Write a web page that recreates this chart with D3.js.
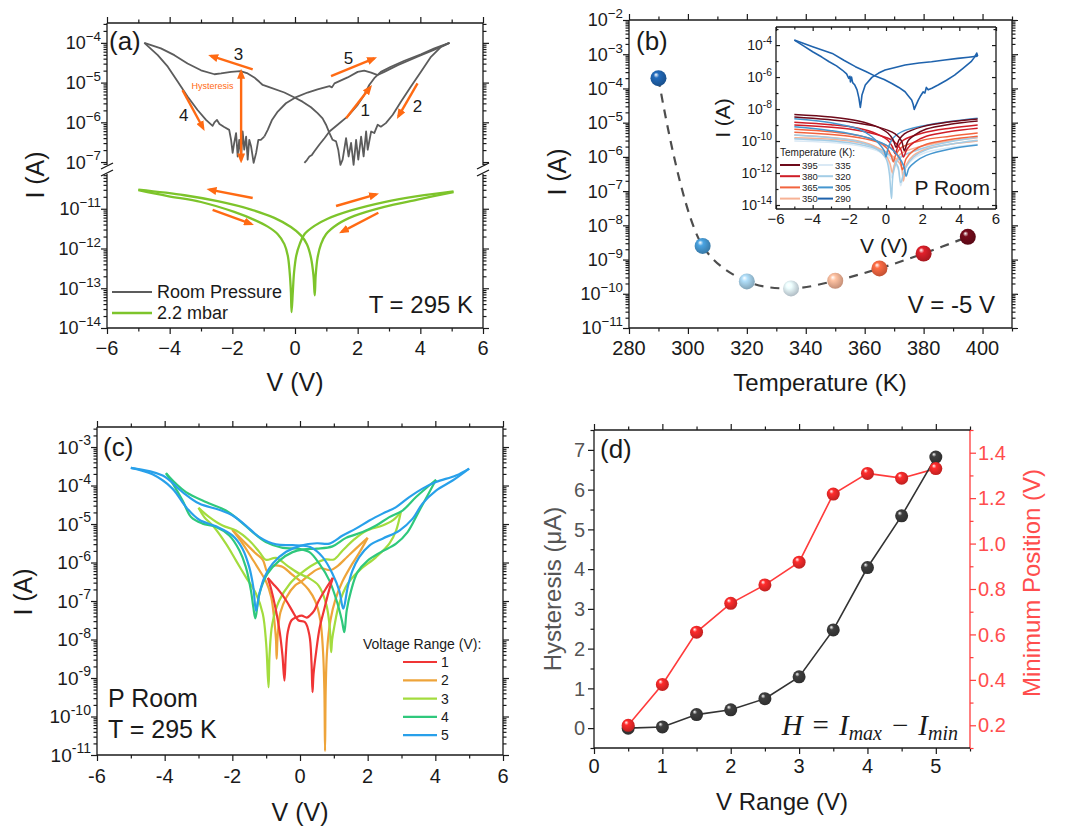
<!DOCTYPE html>
<html>
<head>
<meta charset="utf-8">
<script src="https://cdn.jsdelivr.net/npm/d3@7"></script>
<style>
  body { margin: 0; background: #fff; }
  svg { font-family: "Liberation Sans", Arial, sans-serif; }
</style>
</head>
<body>
<svg id="fig" width="1070" height="826"></svg>
<script>
// ---------- panel (a): I-V at 295 K, points are [V, log10 I] ----------
var aTicksV = [-6, -4, -2, 0, 2, 4, 6];
var aTicksHi = [-4, -5, -6, -7];
var aTicksLo = [-11, -12, -13, -14];
var aRoom1 = [[0.3,-7.02],[0.38,-6.95],[0.46,-6.86],[0.54,-6.82],[0.62,-6.73],[0.78,-6.56],[0.94,-6.4],[1.1,-6.23],[1.36,-6.06],[1.68,-5.85],[2.0,-5.56],[2.21,-5.31],[2.37,-5.06],[2.53,-4.89],[2.74,-4.73],[3.06,-4.6],[3.49,-4.45],[4.02,-4.29],[4.45,-4.14],[4.93,-4.0]];
var aRoom2 = [[4.93,-4.0],[4.66,-4.1],[4.34,-4.35],[4.02,-4.73],[3.7,-5.1],[3.38,-5.48],[3.12,-5.81],[2.9,-6.02],[2.74,-6.11],[2.64,-6.06],[2.53,-6.27],[2.43,-6.23],[2.32,-6.69],[2.27,-6.23],[2.19,-6.86],[2.11,-6.36],[2.02,-6.94],[1.95,-6.44],[1.87,-7.07],[1.79,-6.52],[1.71,-6.86],[1.63,-6.4],[1.52,-6.94],[1.45,-7.07],[1.38,-6.69],[1.31,-6.48],[1.2,-6.44],[1.1,-6.27]];
var aRoom3 = [[1.1,-6.27],[0.99,-6.06],[0.88,-5.9],[0.72,-5.77],[0.51,-5.62],[0.24,-5.48],[0,-5.38],[-0.34,-5.25],[-0.87,-5.1],[-1.03,-5.06],[-1.14,-4.98],[-1.3,-4.87],[-1.51,-4.77],[-1.74,-4.71],[-2.04,-4.73],[-2.36,-4.77],[-2.57,-4.79],[-3.0,-4.69],[-3.43,-4.52],[-3.85,-4.31],[-4.28,-4.14],[-4.81,-4.0]];
var aRoom4 = [[-4.81,-4.0],[-4.38,-4.31],[-4.06,-4.6],[-3.74,-4.98],[-3.43,-5.35],[-3.11,-5.69],[-2.84,-5.94],[-2.63,-6.09],[-2.57,-6.0],[-2.49,-5.94],[-2.41,-6.04],[-2.26,-6.12],[-2.1,-6.19],[-2.04,-6.44],[-1.99,-6.77],[-1.94,-6.52],[-1.88,-6.27],[-1.83,-6.86],[-1.78,-6.44],[-1.72,-6.86],[-1.67,-6.23],[-1.62,-6.69],[-1.56,-6.36],[-1.51,-6.94],[-1.46,-6.44],[-1.4,-6.61],[-1.32,-7.02],[-1.24,-6.77],[-1.17,-6.44],[-1.09,-6.44],[-0.98,-6.36]];
var aRoom5 = [[-0.98,-6.36],[-0.87,-6.19],[-0.74,-5.95],[-0.55,-5.73],[-0.29,-5.52],[0,-5.38],[0.4,-5.25],[0.72,-5.17],[1.1,-5.09],[1.18,-5.12],[1.26,-5.02],[1.68,-4.87],[2.0,-4.73],[2.21,-4.7],[2.43,-4.75],[2.64,-4.81],[2.85,-4.73],[3.28,-4.56],[3.91,-4.35],[4.45,-4.17],[4.93,-4.0]];
var aVac1 = [[-5.0,-10.53],[-4.06,-10.68],[-3.0,-10.83],[-1.94,-11.08],[-1.3,-11.28],[-0.87,-11.45],[-0.55,-11.64],[-0.34,-11.89],[-0.23,-12.18],[-0.17,-12.6],[-0.13,-13.1],[-0.11,-13.6],[-0.07,-13.1],[-0.03,-12.6],[0.04,-12.18],[0.15,-11.89],[0.3,-11.64],[0.62,-11.43],[1.04,-11.25],[1.79,-11.04],[2.85,-10.83],[3.91,-10.68],[5.06,-10.56]];
var aVac2 = [[5.06,-10.58],[3.91,-10.77],[2.85,-10.95],[1.89,-11.18],[1.36,-11.39],[0.99,-11.64],[0.83,-11.89],[0.72,-12.23],[0.66,-12.68],[0.63,-13.18],[0.59,-12.68],[0.51,-12.23],[0.38,-11.89],[0.19,-11.67],[-0.13,-11.46],[-0.66,-11.23],[-1.4,-11.02],[-2.47,-10.81],[-3.53,-10.66],[-5.0,-10.52]];
// sweep arrows [V tail, log tail, V head, log head] and their numbers
var aArrowsHi = [[-1.35,-4.67,-2.68,-4.33],[1.15,-4.84,2.53,-4.39],[1.63,-5.9,2.4,-5.12],[3.91,-5.02,3.3,-5.85],[-3.59,-5.19,-2.93,-6.15]];
var aArrowNums = [['3',-1.8,-4.28],['5',1.71,-4.37],['1',2.24,-5.69],['2',3.91,-5.59],['4',-3.55,-5.81]];
var aHyst = [-1.72, -4.73, -6.96];
var aArrowsLo = [[-1.35,-10.73,-2.73,-10.52],[-2.63,-11.03,-1.4,-11.38],[1.31,-10.93,2.59,-10.64],[2.66,-11.1,1.49,-11.58]];

// ---------- panel (b): current at -5 V vs temperature ----------
var bTemps = [290, 305, 320, 335, 350, 365, 380, 395];
var bCurrent = [2.0e-4, 2.5e-9, 2.3e-10, 1.43e-10, 2.4e-10, 5.5e-10, 1.5e-9, 4.6e-9];
var bColors = ['#1f63ad', '#4596cf', '#a3cde6', '#dae9f5', '#f7b295', '#f2643f', '#cf1d27', '#6e0a1a'];
var bTicksT = [280, 300, 320, 340, 360, 380, 400];
var bTicksI = [-2, -3, -4, -5, -6, -7, -8, -9, -10, -11];
// inset I-V per temperature, [V, log10 I]; two sweep branches each
var inTicksV = [-6, -4, -2, 0, 2, 4, 6];
var inTicksI = [-4, -6, -8, -10, -12, -14];
var in290a = [[-5,-3.69],[-4.5,-4.05],[-4.0,-4.42],[-3.5,-4.75],[-3.1,-5.04],[-2.7,-5.3],[-2.39,-5.56],[-2.15,-5.8],[-2.03,-6.08],[-1.97,-5.95],[-1.94,-6.3],[-1.88,-6.0],[-1.82,-6.35],[-1.7,-6.5],[-1.58,-6.8],[-1.48,-7.3],[-1.4,-7.9],[-1.35,-7.5],[-1.31,-7.12],[-1.13,-6.5],[-0.77,-6.02],[-0.4,-5.75],[-0.05,-5.56],[0.5,-5.4],[1.04,-5.25],[1.8,-5.12],[2.48,-5.04],[3.2,-4.93],[3.92,-4.83],[4.5,-4.76],[5,-4.69]];
var in290b = [[5,-4.69],[4.95,-4.5],[4.8,-4.8],[4.64,-5.04],[4.2,-5.45],[3.74,-5.88],[3.3,-6.2],[2.84,-6.5],[2.5,-6.7],[2.3,-6.8],[2.2,-6.65],[2.12,-7.0],[2.03,-6.92],[1.9,-7.15],[1.76,-7.44],[1.62,-7.8],[1.54,-8.02],[1.48,-7.7],[1.4,-7.44],[1.2,-7.15],[1.04,-6.92],[0.7,-6.65],[0.32,-6.4],[-0.1,-6.15],[-0.59,-5.94],[-1.1,-5.65],[-1.67,-5.35],[-2.3,-4.95],[-2.93,-4.52],[-4.0,-4.1],[-5,-3.69]];
var in305 = [[[-5,-8.6],[-3,-8.85],[-1.5,-9.25],[-0.8,-9.7],[-0.35,-10.2],[-0.1,-10.6],[0.0,-11.0],[0.1,-10.5],[0.4,-9.8],[1,-9.35],[2.5,-8.95],[5,-8.58]],
             [[5,-10.25],[3.5,-10.5],[2.2,-10.9],[1.6,-11.3],[1.25,-11.7],[1.1,-12.2],[0.98,-11.6],[0.7,-11.0],[0.2,-10.4],[-1,-9.8],[-3,-9.35],[-5,-9.1]]];
var in320 = [[[-5,-9.63],[-3,-9.8],[-1.5,-10.05],[-0.5,-10.5],[0.0,-11.1],[0.18,-12.0],[0.3,-13.6],[0.4,-12.0],[0.7,-11.1],[2,-10.45],[3.5,-10.05],[5,-9.75]],
             [[5,-9.95],[3.5,-10.2],[2.2,-10.55],[1.5,-11.0],[1.05,-11.7],[0.8,-12.6],[0.65,-11.6],[0.3,-11.0],[-0.5,-10.5],[-2,-10.1],[-5,-9.85]]];
var in335 = [[[-5,-9.85],[-3,-10.0],[-1.5,-10.2],[-0.5,-10.55],[0.0,-11.0],[0.18,-11.6],[0.3,-12.3],[0.42,-11.6],[0.75,-11.0],[2,-10.5],[3.5,-10.2],[5,-10.0]],
             [[5,-10.2],[3.5,-10.4],[2.2,-10.7],[1.5,-11.1],[1.05,-11.7],[0.8,-12.8],[0.65,-11.7],[0.25,-11.1],[-0.5,-10.6],[-2,-10.2],[-5,-10.0]]];
var in350 = [[[-5,-9.62],[-3,-9.78],[-1.5,-10.0],[-0.5,-10.4],[0.0,-10.9],[0.22,-11.4],[0.35,-12.0],[0.48,-11.4],[0.8,-10.8],[2,-10.3],[3.5,-10.0],[5,-9.8]],
             [[5,-10.0],[3.5,-10.2],[2.2,-10.5],[1.5,-10.9],[1.1,-11.5],[0.95,-12.5],[0.8,-11.5],[0.3,-10.9],[-0.5,-10.4],[-2,-10.0],[-5,-9.8]]];
var in365 = [[[-5,-9.26],[-3,-9.42],[-1.5,-9.65],[-0.5,-10.0],[0.05,-10.45],[0.28,-10.9],[0.4,-11.3],[0.52,-10.9],[0.85,-10.4],[2,-9.95],[3.5,-9.7],[5,-9.5]],
             [[5,-9.7],[3.5,-9.9],[2.2,-10.2],[1.5,-10.6],[1.1,-11.1],[0.9,-11.8],[0.75,-11.1],[0.35,-10.5],[-0.5,-10.05],[-2,-9.7],[-5,-9.45]]];
var in380 = [[[-5,-8.82],[-3,-8.98],[-1.5,-9.2],[-0.5,-9.55],[0.1,-9.95],[0.35,-10.35],[0.5,-10.8],[0.65,-10.35],[0.95,-9.95],[2,-9.5],[3.5,-9.2],[5,-9.0]],
             [[5,-9.2],[3.5,-9.4],[2.2,-9.7],[1.5,-10.1],[1.15,-10.5],[0.95,-11.0],[0.8,-10.5],[0.4,-10.0],[-0.5,-9.6],[-2,-9.25],[-5,-9.0]]];
var in395 = [[[-5,-8.34],[-3,-8.5],[-1.5,-8.75],[-0.5,-9.1],[0.1,-9.5],[0.4,-9.95],[0.55,-10.4],[0.7,-9.95],[1.0,-9.55],[2,-9.1],[3.5,-8.8],[5,-8.62]],
             [[5,-8.75],[3.5,-8.95],[2.2,-9.25],[1.6,-9.6],[1.2,-10.0],[1.0,-10.6],[0.85,-10.0],[0.5,-9.55],[-0.5,-9.1],[-2,-8.8],[-5,-8.5]]];

// ---------- panel (c): loops for each voltage range, [V, log10 I] ----------
var cTicksV = [-6, -4, -2, 0, 2, 4, 6];
var cTicksI = [-3, -4, -5, -6, -7, -8, -9, -10, -11];
var cRanges = [1, 2, 3, 4, 5];
var cColors = ['#f03535', '#eea43a', '#a3dc3e', '#2fc87c', '#28a0ea'];
var c1P = [[-0.95,-6.4],[-0.85,-6.7],[-0.72,-7.2],[-0.6,-7.8],[-0.52,-8.4],[-0.46,-9.07],[-0.42,-8.4],[-0.36,-7.8],[-0.25,-7.5],[-0.1,-7.42],[0.05,-7.38],[0.2,-7.43],[0.3,-7.37],[0.42,-7.25],[0.55,-7.0],[0.75,-6.7],[0.97,-6.4]];
var c1Q = [[0.97,-6.4],[0.85,-6.75],[0.72,-7.2],[0.58,-7.7],[0.48,-8.3],[0.4,-8.9],[0.37,-9.37],[0.34,-8.6],[0.28,-7.9],[0.15,-7.55],[-0.05,-7.5],[-0.2,-7.3],[-0.4,-7.0],[-0.6,-6.75],[-0.8,-6.55],[-0.95,-6.4]];
var c2P = [[-2.0,-5.15],[-1.7,-5.5],[-1.45,-5.85],[-1.2,-6.2],[-1.0,-6.5],[-0.85,-6.9],[-0.76,-7.5],[-0.71,-8.0],[-0.69,-8.5],[-0.66,-7.9],[-0.58,-7.3],[-0.4,-6.9],[-0.15,-6.6],[0.03,-6.5],[0.3,-6.3],[0.6,-6.15],[0.9,-6.2],[1.1,-6.1],[1.4,-5.85],[1.7,-5.6],[2.0,-5.36]];
var c2Q = [[2.0,-5.36],[1.75,-5.75],[1.5,-6.1],[1.25,-6.5],[1.05,-6.95],[0.9,-7.5],[0.8,-8.3],[0.76,-9.3],[0.74,-10.9],[0.72,-9.3],[0.68,-8.3],[0.6,-7.5],[0.45,-7.0],[0.25,-6.7],[0.03,-6.5],[-0.25,-6.3],[-0.55,-6.1],[-0.85,-6.1],[-0.96,-6.25],[-1.1,-5.93],[-1.3,-5.77],[-1.6,-5.51],[-2.0,-5.15]];
var c3P = [[-3.0,-4.58],[-2.83,-4.82],[-2.58,-5.04],[-2.19,-5.51],[-1.89,-5.95],[-1.6,-6.38],[-1.3,-6.81],[-1.1,-7.33],[-1.0,-8.11],[-0.93,-9.24],[-0.9,-8.4],[-0.82,-7.6],[-0.62,-7.0],[-0.3,-6.55],[0.0,-6.3],[0.4,-6.05],[0.75,-5.92],[1.0,-5.92],[1.26,-5.69],[1.6,-5.4],[1.95,-5.18],[2.44,-5.04],[2.75,-4.9],[2.98,-4.69]];
var c3Q = [[2.98,-4.69],[2.84,-5.17],[2.64,-5.51],[2.25,-5.86],[1.75,-6.21],[1.41,-6.55],[1.16,-7.07],[1.01,-7.68],[0.95,-8.0],[0.92,-8.33],[0.88,-7.7],[0.78,-7.1],[0.55,-6.6],[0.25,-6.4],[0.0,-6.3],[-0.35,-6.1],[-0.71,-5.88],[-1.01,-5.93],[-1.2,-5.73],[-1.5,-5.43],[-1.89,-5.17],[-2.29,-5.04],[-2.68,-4.82],[-3.0,-4.58]];
var c4P = [[-3.96,-3.68],[-3.76,-3.95],[-3.47,-4.39],[-3.22,-4.82],[-2.88,-4.99],[-2.48,-5.08],[-2.09,-5.3],[-1.79,-5.69],[-1.6,-6.12],[-1.45,-6.73],[-1.38,-7.16],[-1.32,-7.45],[-1.2,-6.81],[-0.96,-6.29],[-0.61,-5.95],[-0.22,-5.73],[0.1,-5.66],[0.5,-5.64],[0.96,-5.58],[1.36,-5.36],[1.85,-5.21],[2.25,-5.04],[2.64,-4.82],[3.03,-4.65],[3.43,-4.3],[3.82,-4.0],[4.02,-3.85]];
var c4Q = [[4.02,-3.85],[3.77,-4.26],[3.48,-4.73],[3.18,-5.21],[2.84,-5.51],[2.39,-5.73],[2.0,-5.95],[1.7,-6.25],[1.51,-6.73],[1.38,-7.25],[1.31,-7.81],[1.24,-7.51],[1.11,-7.07],[0.87,-6.47],[0.57,-6.03],[0.28,-5.73],[-0.05,-5.64],[-0.51,-5.62],[-1.01,-5.47],[-1.4,-5.21],[-1.79,-4.91],[-2.19,-4.65],[-2.78,-4.43],[-3.37,-4.17],[-3.67,-3.95],[-3.96,-3.68]];
var c5P = [[-5,-3.54],[-4.36,-3.71],[-3.77,-4.08],[-3.37,-4.56],[-2.98,-4.89],[-2.48,-5.06],[-1.99,-5.3],[-1.7,-5.64],[-1.5,-6.12],[-1.38,-6.64],[-1.3,-7.25],[-1.2,-6.81],[-1.05,-6.38],[-0.81,-6.03],[-0.41,-5.72],[0.03,-5.56],[0.5,-5.5],[0.87,-5.51],[1.26,-5.3],[1.65,-5.12],[2.05,-4.91],[2.44,-4.73],[2.84,-4.56],[3.23,-4.3],[3.62,-4.08],[4.02,-3.91],[4.61,-3.74],[5,-3.56]];
var c5Q = [[5,-3.56],[4.51,-3.87],[4.02,-4.13],[3.62,-4.47],[3.33,-4.86],[2.94,-5.17],[2.44,-5.38],[2.05,-5.56],[1.75,-5.86],[1.55,-6.21],[1.41,-6.64],[1.28,-7.2],[1.16,-6.73],[0.96,-6.29],[0.67,-5.86],[0.3,-5.6],[0.03,-5.56],[-0.22,-5.55],[-0.71,-5.53],[-1.2,-5.34],[-1.6,-5.04],[-1.99,-4.78],[-2.39,-4.63],[-2.98,-4.47],[-3.47,-4.17],[-4.06,-3.74],[-5,-3.54]];

// ---------- panel (d): hysteresis and minimum position ----------
var dRange = [0.5, 1, 1.5, 2, 2.5, 3, 3.5, 4, 4.5, 5];
var dHyst = [0, 0.03, 0.34, 0.46, 0.74, 1.29, 2.47, 4.04, 5.34, 6.82];
var dMinPos = [0.2, 0.38, 0.61, 0.737, 0.818, 0.918, 1.218, 1.309, 1.288, 1.33];
var dTicksX = [0, 1, 2, 3, 4, 5];
var dTicksL = [0, 1, 2, 3, 4, 5, 6, 7];
var dTicksR = [0.2, 0.4, 0.6, 0.8, 1.0, 1.2, 1.4];

var INK = '#1a1a1a', ORANGE = '#ff6a13', GREY = '#5c5c5c', LIME = '#7dc42b';
var svg = d3.select('#fig');
var defs = svg.append('defs');

function pw(e) { return Math.pow(10, e); }

// four frame sides, colour per side optional
function frameBox(g, f, cols) {
  cols = cols || {};
  [['l', f.l, f.t, f.l, f.b], ['r', f.r, f.t, f.r, f.b], ['t', f.l, f.t, f.r, f.t], ['b', f.l, f.b, f.r, f.b]]
    .forEach(function(s) {
      g.append('line').attr('x1', s[1]).attr('y1', s[2]).attr('x2', s[3]).attr('y2', s[4])
        .attr('stroke', cols[s[0]] || INK).attr('stroke-width', 1.3);
    });
}

// major + minor ticks on one side using d3 axes
function ticks(g, scale, side, f, majors, minors, opt) {
  opt = opt || {};
  var gen = {bottom: d3.axisBottom, top: d3.axisTop, left: d3.axisLeft, right: d3.axisRight}[side];
  var pos = {bottom: [0, f.b], top: [0, f.t], left: [f.l, 0], right: [f.r, 0]}[side];
  var big = opt.big || 6, small = opt.small || 3.5;
  if (opt.inward) { big = -big; small = -small; }
  [[majors, big], [minors || [], small]].forEach(function(p) {
    var axg = g.append('g')
      .attr('transform', 'translate(' + pos[0] + ',' + pos[1] + ')')
      .call(gen(scale).tickValues(p[0]).tickSize(p[1]).tickSizeOuter(0).tickFormat(''));
    axg.select('.domain').remove();
    axg.selectAll('text').remove();
    axg.selectAll('line').attr('stroke', opt.color || INK).attr('stroke-width', 1.2);
  });
}

function logMinors(lo, hi) {
  var out = [];
  for (var e = Math.floor(lo); e < Math.ceil(hi); e++) {
    for (var m = 2; m < 10; m++) {
      var v = m * pw(e);
      if (v >= pw(lo) && v <= pw(hi)) out.push(v);
    }
  }
  return out;
}

function powLabels(g, scale, exps, x, size, minus) {
  exps.forEach(function(e) {
    var t = g.append('text').attr('x', x).attr('y', scale(pw(e)) + size * 0.36)
      .attr('text-anchor', 'end').attr('font-size', size).attr('fill', INK);
    t.append('tspan').text('10');
    t.append('tspan').attr('dy', -size * 0.45).attr('font-size', size * 0.74).text(minus + Math.abs(e));
  });
}

function linLabels(g, scale, vals, axis, at, size, fmt, anchor, color) {
  g.selectAll(null).data(vals).enter().append('text')
    .attr('x', function(d) { return axis === 'x' ? scale(d) : at; })
    .attr('y', function(d) { return axis === 'x' ? at : scale(d) + size * 0.36; })
    .attr('text-anchor', anchor || 'middle')
    .attr('font-size', size).attr('fill', color || INK)
    .text(fmt);
}

function label(g, x, y, s, size, opt) {
  opt = opt || {};
  var t = g.append('text').attr('x', x).attr('y', y).attr('font-size', size)
    .attr('text-anchor', opt.anchor || 'start').attr('fill', opt.color || INK).text(s);
  if (opt.rotate) t.attr('transform', 'rotate(' + opt.rotate + ',' + x + ',' + y + ')');
  return t;
}

function ivLine(xs, ys, curve) {
  return d3.line()
    .x(function(d) { return xs(d[0]); })
    .y(function(d) { return ys(pw(d[1])); })
    .curve(curve || d3.curveLinear);
}

function ballGrad(id, color) {
  var c = d3.color(color);
  var gr = defs.append('radialGradient').attr('id', id)
    .attr('cx', '45%').attr('cy', '42%').attr('r', '62%').attr('fx', '34%').attr('fy', '28%');
  gr.append('stop').attr('offset', '0%').attr('stop-color', '#ffffff');
  gr.append('stop').attr('offset', '28%').attr('stop-color', c.brighter(0.25));
  gr.append('stop').attr('offset', '100%').attr('stop-color', c.darker(0.7));
}

var fmtMinus = function(d) { return (d < 0 ? '\u2212' : '') + Math.abs(d); };
var fmtHyphen = function(d) { return (d < 0 ? '-' : '') + Math.abs(d); };
var smooth = d3.curveCatmullRom.alpha(0.5);

defs.append('marker').attr('id', 'ahead').attr('viewBox', '0 0 10 8')
  .attr('refX', 7).attr('refY', 4).attr('markerWidth', 10).attr('markerHeight', 8)
  .attr('markerUnits', 'userSpaceOnUse').attr('orient', 'auto-start-reverse')
  .append('path').attr('d', 'M0,0 L10,4 L0,8 Z').attr('fill', ORANGE);

// ===================== (a) =====================
(function panelA() {
  var g = svg.append('g');
  var f = {l: 107, r: 483, t: 23, b: 328};
  var x = d3.scaleLinear().domain([-6, 6]).range([f.l, f.r]);
  var yHi = d3.scaleLog().domain([pw(-7.15), pw(-3.5)]).range([168, f.t]);
  var yLo = d3.scaleLog().domain([pw(-14), pw(-10.05)]).range([f.b, 171]);
  var minorV = [-5, -3, -1, 1, 3, 5];

  ticks(g, x, 'bottom', f, aTicksV, minorV);
  ticks(g, x, 'top', f, aTicksV, minorV);
  ['left', 'right'].forEach(function(s) {
    ticks(g, yHi, s, f, aTicksHi.map(pw), logMinors(-7.15, -3.5));
    ticks(g, yLo, s, f, aTicksLo.map(pw), logMinors(-14, -10.05));
  });
  frameBox(g, f);
  // axis break marks
  [f.l, f.r].forEach(function(bx) {
    g.append('rect').attr('x', bx - 8).attr('y', 165).attr('width', 16).attr('height', 9).attr('fill', '#fff');
    [166, 173].forEach(function(y0) {
      g.append('line').attr('x1', bx - 6).attr('y1', y0 + 3).attr('x2', bx + 6).attr('y2', y0 - 3)
        .attr('stroke', INK).attr('stroke-width', 1.3);
    });
  });

  powLabels(g, yHi, aTicksHi, f.l - 6, 18, '\u2212');
  powLabels(g, yLo, aTicksLo, f.l - 6, 18, '\u2212');
  linLabels(g, x, aTicksV, 'x', 355, 20, fmtMinus);

  var hi = ivLine(x, yHi), lo = ivLine(x, yLo, smooth);
  [aRoom1, aRoom2, aRoom3, aRoom4, aRoom5].forEach(function(br) {
    g.append('path').datum(br).attr('d', hi).attr('fill', 'none')
      .attr('stroke', GREY).attr('stroke-width', 1.8).attr('stroke-linejoin', 'round');
  });
  [aVac1, aVac2].forEach(function(br) {
    g.append('path').datum(br).attr('d', lo).attr('fill', 'none')
      .attr('stroke', LIME).attr('stroke-width', 2.3);
  });

  function arrow(ys, a) {
    g.append('line').attr('x1', x(a[0])).attr('y1', ys(pw(a[1])))
      .attr('x2', x(a[2])).attr('y2', ys(pw(a[3])))
      .attr('stroke', ORANGE).attr('stroke-width', 2.4).attr('marker-end', 'url(#ahead)');
  }
  aArrowsHi.forEach(function(a) { arrow(yHi, a); });
  aArrowsLo.forEach(function(a) { arrow(yLo, a); });
  aArrowNums.forEach(function(n) { label(g, x(n[1]), yHi(pw(n[2])) + 6, n[0], 17, {anchor: 'middle'}); });
  g.append('line').attr('x1', x(aHyst[0])).attr('x2', x(aHyst[0]))
    .attr('y1', yHi(pw(aHyst[1]))).attr('y2', yHi(pw(aHyst[2])))
    .attr('stroke', ORANGE).attr('stroke-width', 2.4)
    .attr('marker-start', 'url(#ahead)').attr('marker-end', 'url(#ahead)');
  label(g, x(-2.63), yHi(pw(-5.09)) + 3, 'Hysteresis', 9, {anchor: 'middle', color: ORANGE});

  // legend
  g.append('line').attr('x1', 112).attr('x2', 152).attr('y1', 292).attr('y2', 292).attr('stroke', GREY).attr('stroke-width', 1.8);
  g.append('line').attr('x1', 112).attr('x2', 152).attr('y1', 313).attr('y2', 313).attr('stroke', LIME).attr('stroke-width', 2.6);
  label(g, 157, 298, 'Room Pressure', 18);
  label(g, 157, 319, '2.2 mbar', 18);
  label(g, 473, 313, 'T = 295 K', 24, {anchor: 'end'});
  label(g, 109, 50, '(a)', 26);
  label(g, 295, 391, 'V (V)', 25, {anchor: 'middle'});
  label(g, 44, 175, 'I (A)', 25, {anchor: 'middle', rotate: -90});
})();

// ===================== (b) =====================
(function panelB() {
  var g = svg.append('g');
  var f = {l: 629, r: 1012, t: 20, b: 328};
  var x = d3.scaleLinear().domain([280, 410]).range([f.l, f.r]);
  var y = d3.scaleLog().domain([1e-11, 1e-2]).range([f.b, f.t]);
  var minorT = [290, 310, 330, 350, 370, 390, 410];

  ticks(g, x, 'bottom', f, bTicksT, minorT);
  ticks(g, x, 'top', f, bTicksT, minorT);
  ticks(g, y, 'left', f, bTicksI.map(pw), logMinors(-11, -2));
  ticks(g, y, 'right', f, bTicksI.map(pw), logMinors(-11, -2));
  frameBox(g, f);
  powLabels(g, y, bTicksI, f.l - 6, 18, '\u2212');
  linLabels(g, x, bTicksT, 'x', 355, 20, String);

  var pts = bTemps.map(function(t, i) { return [t, bCurrent[i]]; });
  g.append('path').datum(pts)
    .attr('d', d3.line().x(function(d) { return x(d[0]); }).y(function(d) { return y(d[1]); }).curve(smooth))
    .attr('fill', 'none').attr('stroke', '#4d4d4d').attr('stroke-width', 2.2).attr('stroke-dasharray', '9,7');
  bColors.forEach(function(c, i) { ballGrad('gb' + i, c); });
  g.selectAll('circle.ball').data(pts).enter().append('circle')
    .attr('cx', function(d) { return x(d[0]); }).attr('cy', function(d) { return y(d[1]); })
    .attr('r', 8).attr('fill', function(d, i) { return 'url(#gb' + i + ')'; });

  label(g, 995, 313, 'V = -5 V', 24, {anchor: 'end'});
  label(g, 636, 50, '(b)', 26);
  label(g, 820, 391, 'Temperature (K)', 24, {anchor: 'middle'});
  label(g, 566, 172, 'I (A)', 25, {anchor: 'middle', rotate: -90});

  // ----- inset -----
  var fi = {l: 776, r: 996, t: 27, b: 209};
  var ix = d3.scaleLinear().domain([-6, 6]).range([fi.l, fi.r]);
  var iy = d3.scaleLog().domain([pw(-14.25), pw(-2.87)]).range([fi.b, fi.t]);
  g.append('rect').attr('x', fi.l).attr('y', fi.t).attr('width', fi.r - fi.l).attr('height', fi.b - fi.t).attr('fill', '#fff');
  var oddExp = [-3, -5, -7, -9, -11, -13].map(pw);
  ticks(g, ix, 'bottom', fi, inTicksV, [-5, -3, -1, 1, 3, 5], {inward: true, big: 4, small: 2.5});
  ticks(g, ix, 'top', fi, inTicksV, [-5, -3, -1, 1, 3, 5], {inward: true, big: 4, small: 2.5});
  ticks(g, iy, 'left', fi, inTicksI.map(pw), oddExp, {inward: true, big: 4, small: 2.5});
  ticks(g, iy, 'right', fi, inTicksI.map(pw), oddExp, {inward: true, big: 4, small: 2.5});
  frameBox(g, fi);
  powLabels(g, iy, inTicksI, fi.l - 4, 14, '-');
  linLabels(g, ix, inTicksV, 'x', 224, 15, fmtMinus);

  var il = ivLine(ix, iy, smooth);
  var lows = {305: in305, 320: in320, 335: in335, 350: in350, 365: in365, 380: in380, 395: in395};
  [335, 350, 320, 365, 380, 305, 395].forEach(function(t) {
    var c = bColors[bTemps.indexOf(t)];
    lows[t].forEach(function(br) {
      g.append('path').datum(br).attr('d', il).attr('fill', 'none').attr('stroke', c).attr('stroke-width', 1.5);
    });
  });
  var il290 = ivLine(ix, iy);
  [in290a, in290b].forEach(function(br) {
    g.append('path').datum(br).attr('d', il290).attr('fill', 'none')
      .attr('stroke', bColors[0]).attr('stroke-width', 1.6).attr('stroke-linejoin', 'round');
  });

  // inset legend, two columns
  label(g, 780, 156, 'Temperature (K):', 10);
  var cols = [[395, 380, 365, 350], [335, 320, 305, 290]];
  cols.forEach(function(col, ci) {
    col.forEach(function(t, ri) {
      var yy = 165 + ri * 11.2, x0 = ci === 0 ? 780 : 818;
      g.append('line').attr('x1', x0).attr('x2', x0 + (ci === 0 ? 20 : 15)).attr('y1', yy).attr('y2', yy)
        .attr('stroke', bColors[bTemps.indexOf(t)]).attr('stroke-width', 2);
      label(g, x0 + (ci === 0 ? 22 : 17), yy + 3.5, String(t), 9.5);
    });
  });
  label(g, 990, 195, 'P Room', 21, {anchor: 'end'});
  label(g, 884, 253, 'V (V)', 21, {anchor: 'middle'});
  label(g, 730, 118, 'I (A)', 21, {anchor: 'middle', rotate: -90});
})();

// ===================== (c) =====================
(function panelC() {
  var g = svg.append('g');
  var f = {l: 97, r: 503, t: 427, b: 755};
  var x = d3.scaleLinear().domain([-6, 6]).range([f.l, f.r]);
  var y = d3.scaleLog().domain([1e-11, pw(-2.48)]).range([f.b, f.t]);
  var minorV = [-5, -3, -1, 1, 3, 5];

  ticks(g, x, 'bottom', f, cTicksV, minorV);
  ticks(g, x, 'top', f, cTicksV, minorV);
  ticks(g, y, 'left', f, cTicksI.map(pw), logMinors(-11, -2.48));
  ticks(g, y, 'right', f, cTicksI.map(pw), logMinors(-11, -2.48));
  frameBox(g, f);
  powLabels(g, y, cTicksI, f.l - 6, 19, '-');
  linLabels(g, x, cTicksV, 'x', 783, 20, fmtHyphen);

  var ln = ivLine(x, y, smooth);
  var loops = [[c1P, c1Q], [c2P, c2Q], [c3P, c3Q], [c4P, c4Q], [c5P, c5Q]];
  [1, 2, 3, 4, 0].forEach(function(i) {
    loops[i].forEach(function(br) {
      g.append('path').datum(br).attr('d', ln).attr('fill', 'none')
        .attr('stroke', cColors[i]).attr('stroke-width', 2.2);
    });
  });

  label(g, 363, 649, 'Voltage Range (V):', 14);
  cRanges.forEach(function(r, i) {
    var yy = 662 + i * 18.3;
    g.append('line').attr('x1', 403).attr('x2', 437).attr('y1', yy).attr('y2', yy)
      .attr('stroke', cColors[i]).attr('stroke-width', 2.2);
    label(g, 441, yy + 5, String(r), 14);
  });
  label(g, 108, 707, 'P Room', 25);
  label(g, 108, 738, 'T = 295 K', 25);
  label(g, 103, 456, '(c)', 26);
  label(g, 300, 821, 'V (V)', 25, {anchor: 'middle'});
  label(g, 32, 592, 'I (A)', 25, {anchor: 'middle', rotate: -90});
})();

// ===================== (d) =====================
(function panelD() {
  var g = svg.append('g');
  var f = {l: 594, r: 970, t: 430, b: 748};
  var RED = '#ff3b3b', LRED = '#ff4d4d', DG = '#555555';
  var x = d3.scaleLinear().domain([0, 5.5]).range([f.l, f.r]);
  var yL = d3.scaleLinear().domain([-0.5, 7.5]).range([f.b, f.t]);
  var yR = d3.scaleLinear().domain([0.1, 1.5]).range([f.b, f.t]);

  var minorX = [0.5, 1.5, 2.5, 3.5, 4.5, 5.5];
  ticks(g, x, 'bottom', f, dTicksX, minorX);
  ticks(g, x, 'top', f, dTicksX, minorX);
  ticks(g, yL, 'left', f, dTicksL, [-0.5, 0.5, 1.5, 2.5, 3.5, 4.5, 5.5, 6.5, 7.5]);
  ticks(g, yR, 'right', f, dTicksR, [0.1, 0.3, 0.5, 0.7, 0.9, 1.1, 1.3, 1.5], {color: RED});
  frameBox(g, f, {r: RED});
  linLabels(g, x, dTicksX, 'x', 773, 20, String);
  linLabels(g, yL, dTicksL, 'y', f.l - 9, 20, String, 'end', DG);
  linLabels(g, yR, dTicksR, 'y', f.r + 8, 20, d3.format('.1f'), 'start', LRED);

  ballGrad('gdk', '#3a3a3a');
  ballGrad('gdr', '#f02828');
  var hPts = dRange.map(function(v, i) { return [v, dHyst[i]]; });
  var mPts = dRange.map(function(v, i) { return [v, dMinPos[i]]; });
  g.append('path').datum(mPts)
    .attr('d', d3.line().x(function(d) { return x(d[0]); }).y(function(d) { return yR(d[1]); }))
    .attr('fill', 'none').attr('stroke', RED).attr('stroke-width', 1.6);
  g.append('path').datum(hPts)
    .attr('d', d3.line().x(function(d) { return x(d[0]); }).y(function(d) { return yL(d[1]); }))
    .attr('fill', 'none').attr('stroke', '#333').attr('stroke-width', 1.6);
  g.selectAll('circle.h').data(hPts).enter().append('circle')
    .attr('cx', function(d) { return x(d[0]); }).attr('cy', function(d) { return yL(d[1]); })
    .attr('r', 6.5).attr('fill', 'url(#gdk)');
  g.selectAll('circle.m').data(mPts).enter().append('circle')
    .attr('cx', function(d) { return x(d[0]); }).attr('cy', function(d) { return yR(d[1]); })
    .attr('r', 6.5).attr('fill', 'url(#gdr)');

  // H = I_max - I_min
  var fm = g.append('text').attr('x', 958).attr('y', 735).attr('text-anchor', 'end')
    .attr('font-family', '"Liberation Serif", "Times New Roman", serif').attr('font-size', 29).attr('fill', INK);
  fm.append('tspan').attr('font-style', 'italic').text('H');
  fm.append('tspan').attr('dx', 10).text('=');
  fm.append('tspan').attr('dx', 10).attr('font-style', 'italic').text('I');
  fm.append('tspan').attr('dy', 5).attr('font-size', 20).attr('font-style', 'italic').text('max');
  fm.append('tspan').attr('dy', -5).attr('dx', 10).text('\u2212');
  fm.append('tspan').attr('dx', 10).attr('font-style', 'italic').text('I');
  fm.append('tspan').attr('dy', 5).attr('font-size', 20).attr('font-style', 'italic').text('min');

  label(g, 600, 458, '(d)', 26);
  label(g, 782, 810, 'V Range (V)', 24, {anchor: 'middle'});
  label(g, 561, 589, 'Hysteresis (\u03bcA)', 24, {anchor: 'middle', rotate: -90, color: DG});
  label(g, 1040, 583, 'Minimum Position (V)', 24, {anchor: 'middle', rotate: -90, color: LRED});
})();
</script>
</body>
</html>
